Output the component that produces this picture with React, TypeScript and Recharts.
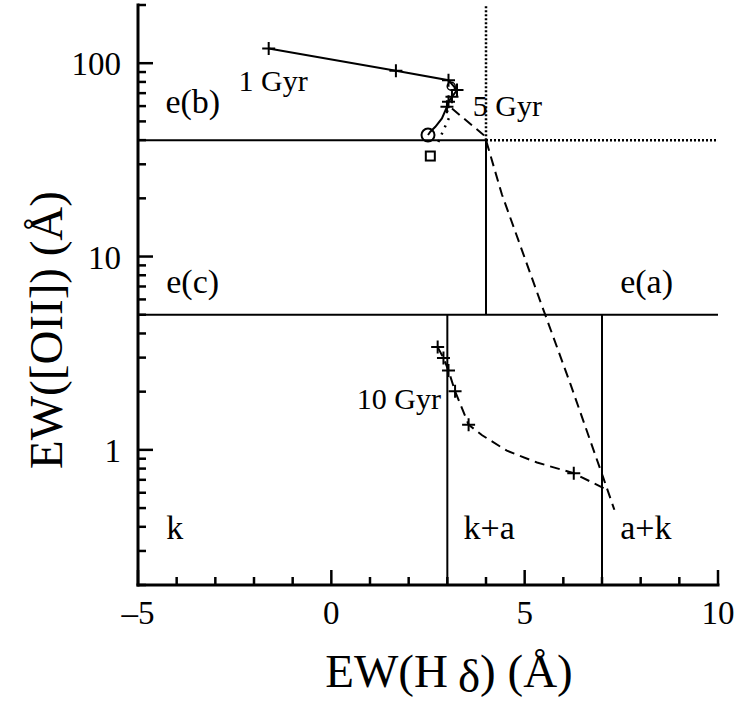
import React from 'react';
import { ScatterChart, Scatter, XAxis, YAxis, ReferenceLine, Label } from 'recharts';

const FONT = 'Liberation Serif, Times New Roman, DejaVu Serif, serif';

// axes
const xTicks = [-5, -4, -3, -2, -1, 0, 1, 2, 3, 4, 5, 6, 7, 8, 9, 10];
const xMajor = [-5, 0, 5, 10];
const xTickLabels = ['–5', '0', '5', '10'];
const yTicks = [
  0.2, 0.3, 0.4, 0.5, 0.6, 0.7, 0.8, 0.9,
  1, 2, 3, 4, 5, 6, 7, 8, 9,
  10, 20, 30, 40, 50, 60, 70, 80, 90,
  100, 200,
];
const yMajor = [1, 10, 100];
const yTickLabels = ['1', '10', '100'];

// solid track, 1 Gyr -> 5 Gyr
const youngTrack = [
  { x: -1.62, y: 119 },
  { x: 1.67, y: 91.5 },
  { x: 3.03, y: 81.7 },
  { x: 3.25, y: 72.6 },
  { x: 3.12, y: 67.0 },
  { x: 3.03, y: 63.1 },
  { x: 2.99, y: 59.5 },
  { x: 2.86, y: 51.8 },
  { x: 2.69, y: 46.9 },
  { x: 2.56, y: 44.2 },
  { x: 2.5, y: 42.5 },
];
const youngPlus = [
  { x: -1.62, y: 119 },
  { x: 1.67, y: 91.5 },
  { x: 3.03, y: 81.7 },
  { x: 3.25, y: 72.6 },
  { x: 3.12, y: 67.0 },
  { x: 3.03, y: 63.1 },
  { x: 2.99, y: 59.5 },
];
const openCircle = [{ x: 2.5, y: 42.5 }];
const smallCircle = [{ x: 3.1, y: 76 }];
const openSquare = [{ x: 2.56, y: 33.1 }];

// dotted track
const dottedTrack = [
  { x: 2.99, y: 57 },
  { x: 3.04, y: 52 },
  { x: 2.9, y: 45 },
  { x: 2.73, y: 37.7 },
];

// dashed track through the e(a) / a+k region
const dashedUpper = [
  { x: 3.12, y: 58.3 },
  { x: 3.94, y: 42.5 },
  { x: 4.0, y: 40 },
  { x: 4.41, y: 21 },
  { x: 5.4, y: 5.9 },
  { x: 6.18, y: 2.2 },
  { x: 7.03, y: 0.72 },
  { x: 7.32, y: 0.49 },
];

// dashed track, 10 Gyr branch
const dashedLower = [
  { x: 2.75, y: 3.4 },
  { x: 2.9, y: 2.99 },
  { x: 3.03, y: 2.57 },
  { x: 3.2, y: 2.01 },
  { x: 3.55, y: 1.35 },
  { x: 3.9, y: 1.19 },
  { x: 4.54, y: 0.99 },
  { x: 5.32, y: 0.86 },
  { x: 6.27, y: 0.757 },
  { x: 7.17, y: 0.615 },
];
const oldPlus = [
  { x: 2.75, y: 3.4 },
  { x: 2.9, y: 2.99 },
  { x: 3.03, y: 2.57 },
  { x: 3.2, y: 2.01 },
  { x: 3.55, y: 1.35 },
  { x: 6.27, y: 0.757 },
];

// class boundaries
const solidBounds = [
  [{ x: -5, y: 40 }, { x: 4, y: 40 }],
  [{ x: 4, y: 5 }, { x: 4, y: 40 }],
  [{ x: -5, y: 5 }, { x: 10, y: 5 }],
  [{ x: 3, y: 0.2 }, { x: 3, y: 5 }],
  [{ x: 7, y: 0.2 }, { x: 7, y: 5 }],
];
const dottedBounds = [
  [{ x: 4, y: 40 }, { x: 10, y: 40 }],
  [{ x: 4, y: 40 }, { x: 4, y: 200 }],
];

const regionLabels = [
  { x: -4.29, y: 63.9, text: 'e(b)' },
  { x: -4.27, y: 7.45, text: 'e(c)' },
  { x: 7.47, y: 7.45, text: 'e(a)' },
  { x: -4.27, y: 0.4, text: 'k' },
  { x: 3.42, y: 0.4, text: 'k+a' },
  { x: 7.47, y: 0.4, text: 'a+k' },
];
const ageLabels = [
  { x: -2.4, y: 81, text: '1 Gyr' },
  { x: 3.66, y: 60.2, text: '5 Gyr' },
  { x: 0.66, y: 1.84, text: '10 Gyr' },
];

const MAJOR = 15;
const MINOR = 8;
const TICK_W = 2.5;
const textStyle = { fontFamily: FONT };

const BottomTick = ({ x, y, payload }: any) => {
  const i = xMajor.indexOf(payload.value);
  return (
    <g>
      <line x1={x} x2={x} y1={y} y2={y - (i >= 0 ? MAJOR : MINOR)} stroke="#000" strokeWidth={TICK_W} />
      {i >= 0 && (
        <text x={x} y={y + 39} textAnchor="middle" fontSize={33} style={textStyle} fill="#000">
          {xTickLabels[i]}
        </text>
      )}
    </g>
  );
};

const TopTick = ({ x, y, payload }: any) => {
  const major = xMajor.includes(payload.value);
  return <line x1={x} x2={x} y1={y} y2={y + (major ? MAJOR : MINOR)} stroke="#000" strokeWidth={TICK_W} />;
};

const LeftTick = ({ x, y, payload }: any) => {
  const i = yMajor.indexOf(payload.value);
  return (
    <g>
      <line x1={x} x2={x + (i >= 0 ? MAJOR : MINOR)} y1={y} y2={y} stroke="#000" strokeWidth={TICK_W} />
      {i >= 0 && (
        <text x={x - 17} y={y + 12} textAnchor="end" fontSize={33} style={textStyle} fill="#000">
          {yTickLabels[i]}
        </text>
      )}
    </g>
  );
};

const RightTick = ({ x, y, payload }: any) => {
  const major = yMajor.includes(payload.value);
  return <line x1={x} x2={x - (major ? MAJOR : MINOR)} y1={y} y2={y} stroke="#000" strokeWidth={TICK_W} />;
};

const Plus = ({ cx, cy }: any) => (
  <path d={`M${cx - 6.5},${cy}H${cx + 6.5}M${cx},${cy - 6.5}V${cy + 6.5}`} stroke="#000" strokeWidth={2} fill="none" />
);
const Ring = ({ cx, cy }: any) => <circle cx={cx} cy={cy} r={6.5} fill="none" stroke="#000" strokeWidth={2} />;
const SmallRing = ({ cx, cy }: any) => <circle cx={cx} cy={cy} r={4} fill="none" stroke="#000" strokeWidth={1.5} />;
const Box = ({ cx, cy }: any) => (
  <rect x={cx - 4.5} y={cy - 4.5} width={9} height={9} fill="none" stroke="#000" strokeWidth={2} />
);
const NoDot = () => <g />;
const RegionText = ({ cx, cy, payload }: any) => (
  <text x={cx} y={cy} dy="0.35em" fontSize={34} style={textStyle} fill="#000">
    {payload.text}
  </text>
);
const AgeText = ({ cx, cy, payload }: any) => (
  <text x={cx} y={cy} dy="0.35em" fontSize={30} style={textStyle} fill="#000">
    {payload.text}
  </text>
);

const frame = { stroke: '#000', strokeWidth: 3, strokeLinecap: 'square' as const };

export default function App() {
  return (
    <div style={{ width: 737, height: 704, background: '#fff', fontFamily: FONT }}>
      <style>{'body{margin:0}'}</style>
      <ScatterChart width={737} height={704} margin={{ top: 5, right: 19, bottom: 0, left: 0 }}>
        <XAxis
          xAxisId={0}
          type="number"
          dataKey="x"
          domain={[-5, 10]}
          ticks={xTicks}
          interval={0}
          allowDataOverflow
          height={119}
          tickSize={0}
          tickMargin={0}
          tickLine={false}
          axisLine={frame}
          tick={<BottomTick />}
        >
          <Label
            content={() => (
              <text x={449} y={687} textAnchor="middle" fontSize={47} style={textStyle} fill="#000">
                EW(H<tspan dx={10} dy={5}>δ</tspan><tspan dy={-5}>) (Å)</tspan>
              </text>
            )}
          />
        </XAxis>
        <XAxis
          xAxisId="top"
          orientation="top"
          type="number"
          dataKey="x"
          domain={[-5, 10]}
          ticks={xTicks}
          interval={0}
          allowDataOverflow
          height={0}
          tickSize={0}
          tickMargin={0}
          tickLine={false}
          axisLine={frame}
          tick={<TopTick />}
        />
        <YAxis
          yAxisId={0}
          type="number"
          dataKey="y"
          scale="log"
          domain={[0.2, 200]}
          ticks={yTicks}
          interval={0}
          allowDataOverflow
          width={138}
          tickSize={0}
          tickMargin={0}
          tickLine={false}
          axisLine={frame}
          tick={<LeftTick />}
        >
          <Label
            content={() => (
              <text
                x={46}
                y={330}
                textAnchor="middle"
                fontSize={47}
                style={textStyle}
                fill="#000"
                transform="rotate(-90 46 330)"
                dy="0.35em"
              >
                EW([OII]) (Å)
              </text>
            )}
          />
        </YAxis>
        <YAxis
          yAxisId="right"
          orientation="right"
          type="number"
          dataKey="y"
          scale="log"
          domain={[0.2, 200]}
          ticks={yTicks}
          interval={0}
          allowDataOverflow
          width={0}
          tickSize={0}
          tickMargin={0}
          tickLine={false}
          axisLine={frame}
          tick={<RightTick />}
        />

        {solidBounds.map((s, i) => (
          <ReferenceLine key={`s${i}`} segment={s} stroke="#000" strokeWidth={2} ifOverflow="visible" />
        ))}
        {dottedBounds.map((s, i) => (
          <ReferenceLine
            key={`d${i}`}
            segment={s}
            stroke="#000"
            strokeWidth={2.5}
            strokeDasharray="2 2"
            ifOverflow="visible"
          />
        ))}

        <Scatter
          data={youngTrack}
          line={{ stroke: '#000', strokeWidth: 2 }}
          shape={NoDot}
          isAnimationActive={false}
        />
        <Scatter
          data={dottedTrack}
          line={{ stroke: '#000', strokeWidth: 2.5, strokeDasharray: '2 6' }}
          shape={NoDot}
          isAnimationActive={false}
        />
        <Scatter
          data={dashedUpper}
          line={{ stroke: '#000', strokeWidth: 2, strokeDasharray: '10 6' }}
          shape={NoDot}
          isAnimationActive={false}
        />
        <Scatter
          data={dashedLower}
          line={{ stroke: '#000', strokeWidth: 2, strokeDasharray: '10 6' }}
          shape={NoDot}
          isAnimationActive={false}
        />
        <Scatter data={youngPlus} shape={Plus} isAnimationActive={false} />
        <Scatter data={oldPlus} shape={Plus} isAnimationActive={false} />
        <Scatter data={openCircle} shape={Ring} isAnimationActive={false} />
        <Scatter data={smallCircle} shape={SmallRing} isAnimationActive={false} />
        <Scatter data={openSquare} shape={Box} isAnimationActive={false} />
        <Scatter data={regionLabels} shape={RegionText} isAnimationActive={false} />
        <Scatter data={ageLabels} shape={AgeText} isAnimationActive={false} />
      </ScatterChart>
    </div>
  );
}
